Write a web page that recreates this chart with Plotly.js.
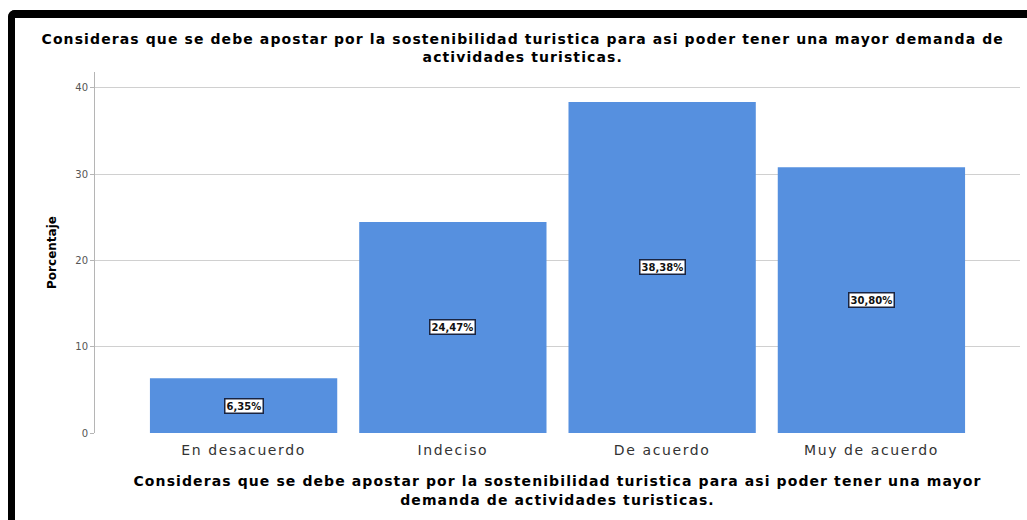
<!DOCTYPE html>
<html>
<head>
<meta charset="utf-8">
<script src="https://cdn.plot.ly/plotly-3.0.1.min.js"></script>
<style>
html,body{margin:0;padding:0;background:#fff;}
#wrap{position:relative;width:1027px;height:520px;overflow:hidden;}
#frame{position:absolute;left:8px;top:10px;width:1040px;height:530px;border-top:8px solid #000;border-left:7px solid #000;border-top-left-radius:7px;pointer-events:none;z-index:5;}
#chart{position:absolute;left:0;top:0;width:1027px;height:520px;}
#chart .gtitle, #chart .g-xtitle text {letter-spacing:1.1px;}
#chart .xtick text {letter-spacing:1.6px;}
</style>
</head>
<body>
<div id="wrap">
<div id="chart"></div>
<div id="frame"></div>
</div>
<script>
const categories = ["En desacuerdo", "Indeciso", "De acuerdo", "Muy de acuerdo"];
const percentages = [6.35, 24.47, 38.38, 30.80];
const yTicks = [0, 10, 20, 30, 40];
const titleText = "Consideras que se debe apostar por la sostenibilidad turistica para asi poder tener una mayor demanda de<br>actividades turisticas.";
const xTitleText = "Consideras que se debe apostar por la sostenibilidad turistica para asi poder tener una mayor<br>demanda de actividades turisticas.";
const yTitleText = "Porcentaje";

const fmt = v => v.toFixed(2).replace('.', ',') + '%';

const trace = {
  type: 'bar',
  x: categories,
  y: percentages,
  width: 0.895,
  marker: {color: '#5690df', line: {width: 0}},
  hoverinfo: 'none'
};

const annotations = categories.map((c, i) => ({
  x: c, y: percentages[i] / 2, xref: 'x', yref: 'y',
  text: fmt(percentages[i]),
  showarrow: false,
  bgcolor: '#ffffff',
  bordercolor: '#1a2440',
  borderwidth: 1.5,
  borderpad: 1,
  font: {family: 'DejaVu Sans, Arial', size: 10, color: '#111', weight: 'bold'}
}));

const layout = {
  width: 1027, height: 520,
  margin: {l: 95, r: 7, t: 72, b: 87},
  paper_bgcolor: '#ffffff',
  plot_bgcolor: '#ffffff',
  showlegend: false,
  bargap: 0.1,
  title: {
    text: titleText,
    font: {family: 'DejaVu Sans, Arial', size: 14, color: '#000', weight: 'bold'},
    x: 0.509, xref: 'container', xanchor: 'center',
    y: 1 - 44/520, yref: 'container', yanchor: 'top'
  },
  xaxis: {
    type: 'category',
    range: [-0.71, 3.71],
    showgrid: false,
    showline: false,
    zeroline: false,
    ticks: '',
    ticklabelstandoff: 7,
    tickfont: {family: 'DejaVu Sans, Arial', size: 14, color: '#333'},
    title: {
      text: xTitleText,
      font: {family: 'DejaVu Sans, Arial', size: 14, color: '#000', weight: 'bold'},
      standoff: 19
    },
    automargin: false,
    fixedrange: true
  },
  yaxis: {
    range: [0, 41.85],
    tickvals: yTicks,
    ticktext: yTicks.map(String),
    showgrid: true,
    gridcolor: '#d0d0d0',
    gridwidth: 1,
    showline: true,
    linecolor: '#b5b5b5',
    linewidth: 1,
    zeroline: false,
    ticks: 'outside',
    ticklen: 4,
    tickcolor: '#b5b5b5',
    tickfont: {family: 'DejaVu Sans, Arial', size: 10, color: '#555'},
    title: {
      text: yTitleText,
      font: {family: 'DejaVu Sans, Arial', size: 12, color: '#000', weight: 'bold'},
      standoff: 16
    },
    automargin: false,
    fixedrange: true
  },
  annotations: annotations
};

Plotly.newPlot('chart', [trace], layout, {displayModeBar: false, staticPlot: true});
</script>
</body>
</html>
